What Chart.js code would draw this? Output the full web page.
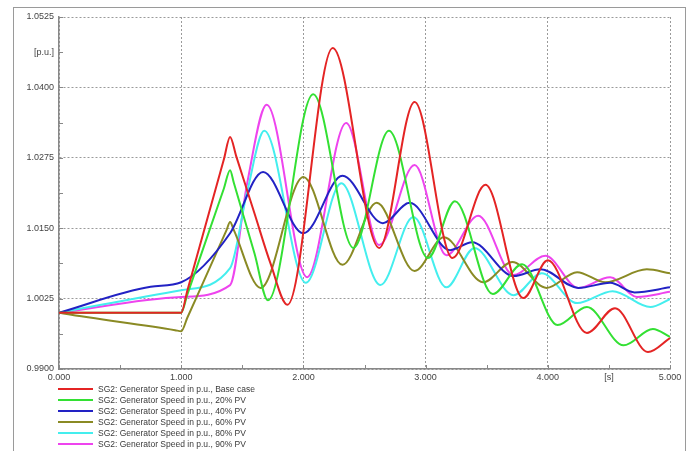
<!DOCTYPE html>
<html><head><meta charset="utf-8">
<script src="https://cdn.jsdelivr.net/npm/chart.js@4.4.1/dist/chart.umd.min.js"></script>
<style>
html,body{margin:0;padding:0;background:#fff;}
body{width:692px;height:451px;overflow:hidden;position:relative;font-family:"Liberation Sans",Arial,sans-serif;}
#frame{position:absolute;left:13px;top:7px;width:673px;height:470px;border:1px solid #9a9a9a;border-bottom:none;box-sizing:border-box;}
#c{position:absolute;left:0;top:0;}
#legend{position:absolute;left:58px;top:383px;}
.row{height:11px;display:flex;align-items:center;font-size:8.5px;color:#3a3a3a;white-space:nowrap;}
.sw{width:35px;height:2px;margin-right:5px;}
</style></head><body>
<div id="frame"></div>
<canvas id="c" width="692" height="451"></canvas>
<div id="legend"></div>
<script>
// ---- data ----
const seriesLabels = [
  'SG2: Generator Speed in p.u., Base case',
  'SG2: Generator Speed in p.u., 20% PV',
  'SG2: Generator Speed in p.u., 40% PV',
  'SG2: Generator Speed in p.u., 60% PV',
  'SG2: Generator Speed in p.u., 80% PV',
  'SG2: Generator Speed in p.u., 90% PV'
];
const seriesColors = ['#e42424', '#33e033', '#2222c4', '#8a8a24', '#44eeee', '#ee44ee'];

const baseT = [0, 1.0, 1.05, 1.35, 1.4, 1.45, 1.6, 1.73, 1.87, 2.24, 2.62, 2.91, 3.22, 3.49, 3.80, 4.00, 4.32, 4.55, 4.82, 5.0];
const baseV = [1.0, 1.0, 1.0039, 1.0273, 1.0312, 1.0278, 1.0176, 1.0088, 1.0014, 1.0470, 1.0115, 1.0374, 1.0097, 1.0227, 1.0026, 1.0093, 0.9964, 1.0008, 0.9930, 0.9955];

const pv20T = [0, 1.0, 1.05, 1.35, 1.4, 1.43, 1.6, 1.71, 2.08, 2.41, 2.70, 3.02, 3.24, 3.55, 3.79, 4.08, 4.32, 4.62, 4.86, 5.0];
const pv20V = [1.0, 1.0, 1.0032, 1.0221, 1.0253, 1.0231, 1.0105, 1.0022, 1.0388, 1.0115, 1.0323, 1.0097, 1.0198, 1.0033, 1.0086, 0.9978, 1.0010, 0.9942, 0.9971, 0.9957];

const pv40T = [0, 0.75, 1.0, 1.4, 1.67, 2.0, 2.32, 2.65, 2.87, 3.2, 3.38, 3.72, 3.94, 4.25, 4.51, 4.71, 5.0];
const pv40V = [1.0, 1.0046, 1.0054, 1.0141, 1.0250, 1.0141, 1.0243, 1.0159, 1.0195, 1.0111, 1.0125, 1.0065, 1.0077, 1.0044, 1.0053, 1.0036, 1.0045];

const pv60T = [0, 0.05, 0.95, 1.0, 1.05, 1.37, 1.4, 1.43, 1.65, 2.0, 2.32, 2.60, 2.91, 3.15, 3.47, 3.71, 3.99, 4.24, 4.47, 4.81, 5.0];
const pv60V = [1.0, 0.9998, 0.9969, 0.9967, 0.9991, 1.0146, 1.0161, 1.0147, 1.0044, 1.0241, 1.0085, 1.0195, 1.0074, 1.0134, 1.0054, 1.0090, 1.0044, 1.0072, 1.0054, 1.0077, 1.0070];

const pv80T = [0, 1.0, 1.4, 1.54, 1.68, 2.02, 2.31, 2.63, 2.90, 3.17, 3.40, 3.72, 3.95, 4.24, 4.53, 4.84, 5.0];
const pv80V = [1.0, 1.0040, 1.0079, 1.0215, 1.0323, 1.0053, 1.0230, 1.0049, 1.0170, 1.0045, 1.0115, 1.0031, 1.0070, 1.0017, 1.0038, 1.0010, 1.0024];

const pv90T = [0, 1.0, 1.4, 1.54, 1.70, 2.03, 2.35, 2.62, 2.91, 3.17, 3.43, 3.72, 3.98, 4.25, 4.51, 4.73, 5.0];
const pv90V = [1.0, 1.0028, 1.0049, 1.0230, 1.0369, 1.0063, 1.0337, 1.0120, 1.0262, 1.0102, 1.0172, 1.0067, 1.0101, 1.0044, 1.0063, 1.0028, 1.0037];

const xTickValues = [0, 0.5, 1, 1.5, 2, 2.5, 3, 3.5, 4, 4.5, 5];
const xTickLabels = ['0.000', '', '1.000', '', '2.000', '', '3.000', '', '4.000', '[s]', '5.000'];
const yTickValues = [0.99, 0.99625, 1.0025, 1.00875, 1.015, 1.02125, 1.0275, 1.03375, 1.04, 1.04625, 1.0525];
const yTickLabels = ['0.9900', '', '1.0025', '', '1.0150', '', '1.0275', '', '1.0400', '[p.u.]', '1.0525'];

// ---- build ----
const seriesT = [baseT, pv20T, pv40T, pv60T, pv80T, pv90T];
const seriesV = [baseV, pv20V, pv40V, pv60V, pv80V, pv90V];

const datasets = seriesLabels.map((lab, i) => ({
  label: lab,
  data: seriesT[i].map((t, j) => ({x: t, y: seriesV[i][j]})),
  borderColor: seriesColors[i],
  backgroundColor: seriesColors[i],
  borderWidth: 2,
  pointRadius: 0,
  cubicInterpolationMode: 'monotone',
  fill: false
}));

Chart.defaults.font.family = '"Liberation Sans", Arial, sans-serif';
Chart.defaults.font.size = 9;
Chart.defaults.color = '#444';

const innerTicks = {
  id: 'innerTicks',
  beforeDatasetsDraw(chart) {
    const {ctx, chartArea: a, scales: {x, y}} = chart;
    ctx.save();
    ctx.strokeStyle = '#888';
    ctx.lineWidth = 1;
    ctx.beginPath();
    y.ticks.forEach(t => {
      const py = Math.round(y.getPixelForValue(t.value)) + 0.5;
      ctx.moveTo(a.left, py); ctx.lineTo(a.left + 4, py);
    });
    x.ticks.forEach(t => {
      const px = Math.round(x.getPixelForValue(t.value)) + 0.5;
      ctx.moveTo(px, a.bottom); ctx.lineTo(px, a.bottom - 4);
    });
    ctx.stroke();
    ctx.restore();
  }
};

new Chart(document.getElementById('c'), {
  type: 'line',
  data: {datasets},
  options: {
    responsive: false,
    animation: false,
    layout: {padding: {left: 0, top: 17, right: 22, bottom: 0}},
    plugins: {legend: {display: false}, tooltip: {enabled: false}},
    scales: {
      x: {
        type: 'linear', min: 0, max: 5,
        afterBuildTicks: s => { s.ticks = xTickValues.map(v => ({value: v})); },
        afterFit: s => { s.height = 82; },
        ticks: {autoSkip: false, maxRotation: 0, padding: 3, color: '#444', font: {size: 9},
                callback: (v, i) => xTickLabels[i]},
        grid: {drawTicks: false, lineWidth: 1,
               color: c => (c.index % 2 === 0 ? '#9a9a9a' : 'rgba(0,0,0,0)')},
        border: {color: '#888', width: 1.5, dash: [2, 2]}
      },
      y: {
        type: 'linear', min: 0.99, max: 1.0525,
        afterBuildTicks: s => { s.ticks = yTickValues.map(v => ({value: v})); },
        afterFit: s => { s.width = 59; },
        ticks: {autoSkip: false, padding: 5, color: '#444', font: {size: 9},
                callback: (v, i) => yTickLabels[i]},
        grid: {drawTicks: false, lineWidth: 1,
               color: c => (c.index % 2 === 0 ? '#9a9a9a' : 'rgba(0,0,0,0)')},
        border: {color: '#888', width: 1.5, dash: [2, 2]}
      }
    }
  },
  plugins: [innerTicks]
});

// HTML legend
const lg = document.getElementById('legend');
seriesLabels.forEach((lab, i) => {
  const r = document.createElement('div'); r.className = 'row';
  const sw = document.createElement('div'); sw.className = 'sw'; sw.style.background = seriesColors[i];
  const tx = document.createElement('span'); tx.textContent = lab;
  r.appendChild(sw); r.appendChild(tx); lg.appendChild(r);
});
</script>
</body></html>
